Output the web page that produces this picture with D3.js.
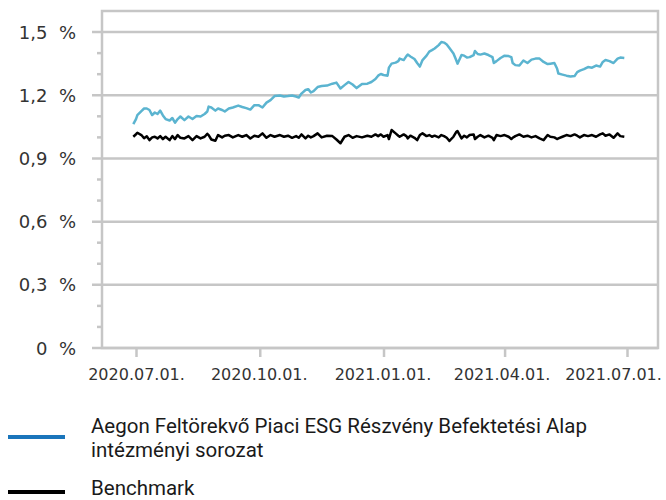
<!DOCTYPE html>
<html>
<head>
<meta charset="utf-8">
<script src="https://cdn.jsdelivr.net/npm/d3@7.9.0/dist/d3.min.js"></script>
<style>
  body { margin: 0; background: #fff; }
  svg { display: block; }
</style>
</head>
<body>
<svg id="chart" width="666" height="500"></svg>
<script>
// dates of the sampled points
const dates = [
  "2020-06-29","2020-07-01","2020-07-02","2020-07-05","2020-07-07","2020-07-09","2020-07-11","2020-07-13",
  "2020-07-15","2020-07-17","2020-07-19","2020-07-21","2020-07-23","2020-07-26","2020-07-28","2020-07-30",
  "2020-08-01","2020-08-03","2020-08-06","2020-08-09","2020-08-12","2020-08-15","2020-08-18","2020-08-21",
  "2020-08-23","2020-08-24","2020-08-26","2020-08-29","2020-08-31","2020-09-03","2020-09-05","2020-09-08",
  "2020-09-11","2020-09-15","2020-09-18","2020-09-21","2020-09-24","2020-09-27","2020-09-30","2020-10-03",
  "2020-10-06","2020-10-09","2020-10-12","2020-10-16","2020-10-19","2020-10-22","2020-10-25","2020-10-28",
  "2020-10-30","2020-11-01","2020-11-04","2020-11-06","2020-11-08","2020-11-10","2020-11-13","2020-11-16",
  "2020-11-20","2020-11-24","2020-11-27","2020-11-30","2020-12-03","2020-12-06","2020-12-09","2020-12-12",
  "2020-12-16","2020-12-20","2020-12-23","2020-12-26","2020-12-28","2020-12-30","2021-01-01","2021-01-04",
  "2021-01-05","2021-01-07","2021-01-10","2021-01-12","2021-01-13","2021-01-16","2021-01-18","2021-01-19",
  "2021-01-21","2021-01-24","2021-01-26","2021-01-28","2021-01-30","2021-02-02","2021-02-04","2021-02-06",
  "2021-02-08","2021-02-11","2021-02-13","2021-02-15","2021-02-17","2021-02-19","2021-02-22","2021-02-24",
  "2021-02-25","2021-02-28","2021-03-02","2021-03-04","2021-03-06","2021-03-09","2021-03-10","2021-03-12",
  "2021-03-14","2021-03-17","2021-03-20","2021-03-23","2021-03-24","2021-03-26","2021-03-29","2021-04-01",
  "2021-04-04","2021-04-06","2021-04-07","2021-04-09","2021-04-12","2021-04-15","2021-04-18","2021-04-21",
  "2021-04-24","2021-04-27","2021-04-30","2021-05-03","2021-05-05","2021-05-08","2021-05-10","2021-05-11",
  "2021-05-14","2021-05-17","2021-05-20","2021-05-23","2021-05-25","2021-05-27","2021-05-30","2021-06-02",
  "2021-06-05","2021-06-08","2021-06-11","2021-06-13","2021-06-15","2021-06-18","2021-06-21","2021-06-24",
  "2021-06-26","2021-06-29"
];

// fund (%)
const fund = [
  1.063,1.087,1.106,1.125,1.137,1.137,1.130,1.106,1.118,1.111,1.127,1.104,1.087,1.080,1.092,1.070,
  1.087,1.099,1.082,1.099,1.087,1.101,1.099,1.111,1.123,1.146,1.142,1.127,1.137,1.130,1.123,1.137,
  1.142,1.151,1.144,1.139,1.132,1.153,1.153,1.142,1.165,1.177,1.196,1.199,1.194,1.196,1.199,1.194,
  1.189,1.208,1.225,1.229,1.213,1.220,1.239,1.244,1.246,1.255,1.260,1.232,1.248,1.263,1.251,1.234,
  1.253,1.255,1.263,1.277,1.293,1.301,1.296,1.293,1.331,1.350,1.355,1.362,1.374,1.367,1.386,1.393,
  1.384,1.372,1.353,1.336,1.367,1.388,1.407,1.414,1.422,1.438,1.453,1.450,1.441,1.424,1.398,1.367,
  1.350,1.391,1.388,1.379,1.381,1.391,1.410,1.396,1.393,1.398,1.391,1.381,1.353,1.362,1.377,1.388,
  1.386,1.381,1.353,1.343,1.341,1.365,1.353,1.369,1.374,1.374,1.358,1.348,1.350,1.353,1.327,1.303,
  1.298,1.293,1.289,1.291,1.310,1.317,1.324,1.334,1.331,1.341,1.336,1.358,1.367,1.362,1.353,1.374,
  1.379,1.377
];

// benchmark (%)
const bench = [
  1.003,1.015,1.022,1.011,0.996,1.005,0.987,1.000,1.003,0.995,1.006,0.992,1.003,0.987,1.006,0.992,
  1.011,0.998,0.995,1.006,0.987,1.006,0.995,1.003,1.017,1.011,0.990,0.984,1.011,1.000,1.008,1.011,
  1.000,1.011,1.003,1.011,0.995,1.008,1.003,1.019,0.998,1.011,1.003,1.011,1.003,1.008,0.998,1.006,
  0.998,1.014,0.995,1.008,1.000,1.006,1.019,1.000,1.008,1.006,0.990,0.972,1.003,1.011,0.998,1.006,
  1.000,1.008,1.003,1.014,1.006,1.014,1.003,1.011,0.992,1.035,1.019,1.008,1.003,1.014,1.006,0.995,
  1.008,0.998,0.987,1.011,1.019,1.006,1.011,1.003,1.008,1.000,1.011,1.006,0.998,0.983,1.003,1.025,
  1.030,0.995,1.008,1.000,1.011,1.014,0.992,1.003,1.011,1.000,1.008,0.998,0.987,1.011,1.006,1.011,
  1.003,0.992,0.998,1.006,1.014,1.003,1.008,1.000,1.006,0.995,0.987,1.011,1.003,1.000,0.992,0.995,
  1.003,1.011,1.006,1.014,1.008,1.000,1.011,1.006,1.011,1.003,1.014,1.019,1.008,1.014,0.998,1.019,
  1.006,1.003
];

const yTicks = [0, 0.3, 0.6, 0.9, 1.2, 1.5];
const yMinor = [0.1, 0.2, 0.4, 0.5, 0.7, 0.8, 1.0, 1.1, 1.3, 1.4];
const xTicks = ["2020-07-01", "2020-10-01", "2021-01-01", "2021-04-01", "2021-07-01"];

const legendItems = [
  { lines: ["Aegon Feltörekvő Piaci ESG Részvény Befektetési Alap", "intézményi sorozat"], color: "#1a75bb" },
  { lines: ["Benchmark"], color: "#000000" }
];

const parse = d3.timeParse("%Y-%m-%d");
const svg = d3.select("#chart");
const grid = "#c6c6c6";
const textCol = "#333333";

const frame = { left: 102, right: 658, top: 11, bottom: 348 };

const x = d3.scaleTime()
  .domain([parse("2020-07-01"), parse("2021-07-01")])
  .range([136, 627]);
const y = d3.scaleLinear().domain([0, 1.6]).range([348, 11]);

// gridlines
svg.append("g").selectAll("line")
  .data(yTicks)
  .join("line")
  .attr("x1", 92).attr("x2", frame.right)
  .attr("y1", d => y(d)).attr("y2", d => y(d))
  .attr("stroke", grid).attr("stroke-width", 2.5);

// minor ticks
svg.append("g").selectAll("line")
  .data(yMinor)
  .join("line")
  .attr("x1", 97).attr("x2", frame.left)
  .attr("y1", d => y(d)).attr("y2", d => y(d))
  .attr("stroke", grid).attr("stroke-width", 2.5);

// frame
svg.append("rect")
  .attr("x", frame.left).attr("y", frame.top)
  .attr("width", frame.right - frame.left).attr("height", frame.bottom - frame.top)
  .attr("fill", "none").attr("stroke", grid).attr("stroke-width", 2.5);

// y labels
svg.append("g").selectAll("text")
  .data(yTicks)
  .join("text")
  .attr("x", 76).attr("y", d => y(d) + 6.5)
  .attr("text-anchor", "end")
  .attr("font-family", "DejaVu Sans").attr("font-size", 18)
  .attr("fill", textCol)
  .style("white-space", "pre")
  .text(d => d3.format(".1f")(d).replace(".", ",").replace(/^0,0$/, "0") + "\u00a0\u00a0%");

// x axis ticks + labels
const xAxis = d3.axisBottom(x)
  .tickValues(xTicks.map(parse))
  .tickSize(9)
  .tickSizeOuter(0)
  .tickFormat(d3.timeFormat("%Y.%m.%d."));

const gx = svg.append("g")
  .attr("transform", `translate(0,${frame.bottom})`)
  .call(xAxis);
gx.select(".domain").remove();
gx.selectAll(".tick line").attr("stroke", grid).attr("stroke-width", 2.5);
// last labels are nudged left so they stay inside the page, as in the original
const nudge = [0, -1, -1, -3, -14];
gx.selectAll(".tick text")
  .attr("y", 21)
  .attr("x", (d, i) => nudge[i])
  .attr("font-family", "DejaVu Sans").attr("font-size", 16)
  .attr("fill", textCol);

// series
const line = d3.line()
  .x((d, i) => x(parse(dates[i])))
  .y(d => y(d));

svg.append("path")
  .datum(fund)
  .attr("d", line)
  .attr("fill", "none")
  .attr("stroke", "#5bb4d0")
  .attr("stroke-width", 2.5)
  .attr("stroke-linejoin", "round");

svg.append("path")
  .datum(bench)
  .attr("d", line)
  .attr("fill", "none")
  .attr("stroke", "#000")
  .attr("stroke-width", 2.5)
  .attr("stroke-linejoin", "round");

// legend
const legendRows = [437, 492];
const legendText = [433, 495];
legendItems.forEach((item, i) => {
  svg.append("line")
    .attr("x1", 8).attr("x2", 65)
    .attr("y1", legendRows[i]).attr("y2", legendRows[i])
    .attr("stroke", item.color).attr("stroke-width", 4);
  item.lines.forEach((t, j) => {
    svg.append("text")
      .attr("x", 91).attr("y", legendText[i] + j * 24)
      .attr("font-family", "Roboto").attr("font-size", 20.5)
      .attr("fill", "#1a1a1a")
      .text(t);
  });
});
</script>
</body>
</html>
